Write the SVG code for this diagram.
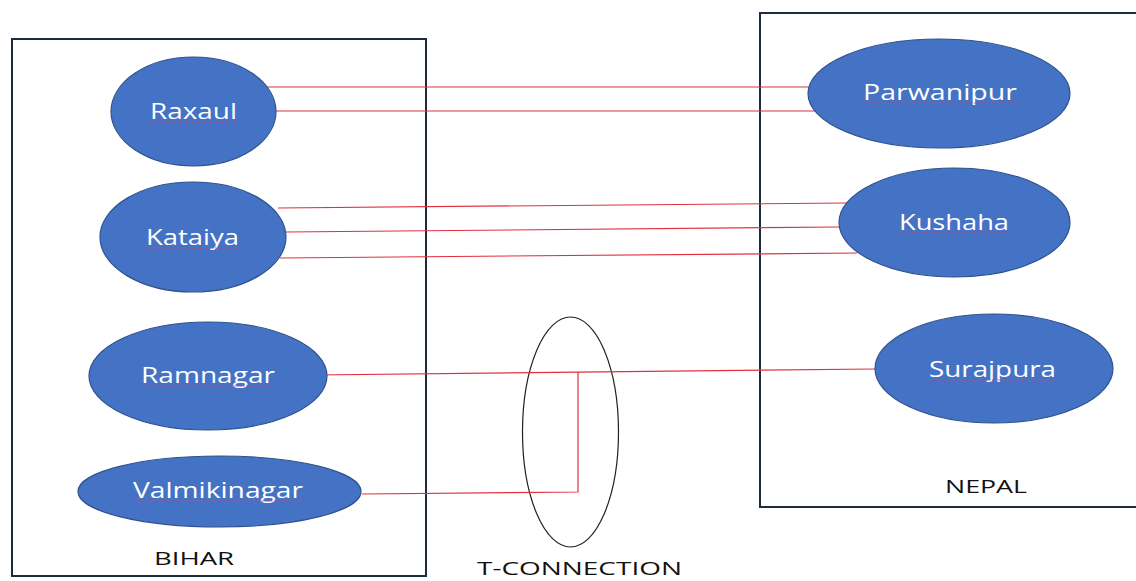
<svg xmlns="http://www.w3.org/2000/svg" width="1136" height="581" viewBox="0 0 1136 581">
<style>
.box{fill:none;stroke:#1e2b3c;stroke-width:2}
.node{fill:#4472c4;stroke:#2f528f;stroke-width:1.2}
.lbl{fill:#ffffff;font-family:"Open Sans","Liberation Sans",sans-serif;font-size:21px;font-weight:500}
.cap{fill:#111111;font-family:"Open Sans","Liberation Sans",sans-serif;font-size:18px}
.wire{fill:none;stroke:#e03040;stroke-width:1.2}
.sq{fill:none;stroke:#d0407a;stroke-width:1.2;stroke-dasharray:1.5 1.5}
</style>
<rect width="1136" height="581" fill="#ffffff"/>
<g id="bihar">
<rect class="box" x="12" y="39" width="414" height="537"/>
<text class="cap" x="154" y="565" textLength="80" lengthAdjust="spacingAndGlyphs">BIHAR</text>
</g>
<g id="nepal">
<rect class="box" x="760" y="13" width="420" height="494"/>
<text class="cap" x="945" y="493" textLength="82" lengthAdjust="spacingAndGlyphs">NEPAL</text>
</g>
<g id="t-connection">
<ellipse cx="570.5" cy="432" rx="48" ry="115" fill="none" stroke="#222222" stroke-width="1.2"/>
<text class="cap" x="477" y="575" textLength="205" lengthAdjust="spacingAndGlyphs">T-CONNECTION</text>
</g>
<g id="connectors">
<line class="wire" x1="262" y1="87" x2="809" y2="87"/>
<line class="wire" x1="268" y1="111" x2="815" y2="111"/>
<line class="wire" x1="278" y1="208" x2="847" y2="203"/>
<line class="wire" x1="286" y1="232" x2="840" y2="227"/>
<line class="wire" x1="280" y1="258" x2="857" y2="253"/>
<line class="wire" x1="315" y1="375" x2="875" y2="369"/>
<polyline class="wire" points="578,372 578,492 362,494"/>
</g>
<g id="raxaul">
<ellipse class="node" cx="193.5" cy="111.5" rx="82.5" ry="54.5"/>
<text class="lbl" x="150" y="119" textLength="87" lengthAdjust="spacingAndGlyphs">Raxaul</text>
<line class="sq" x1="150" y1="122" x2="238" y2="122"/>
</g>
<g id="kataiya">
<ellipse class="node" cx="193" cy="237" rx="93" ry="55"/>
<text class="lbl" x="146" y="245" textLength="93" lengthAdjust="spacingAndGlyphs">Kataiya</text>
<line class="sq" x1="146" y1="248" x2="240" y2="248"/>
</g>
<g id="ramnagar">
<ellipse class="node" cx="208" cy="376" rx="119" ry="54"/>
<text class="lbl" x="141" y="383" textLength="134" lengthAdjust="spacingAndGlyphs">Ramnagar</text>
<line class="sq" x1="141" y1="386" x2="276" y2="386"/>
</g>
<g id="valmikinagar">
<ellipse class="node" cx="219.5" cy="491.5" rx="141.5" ry="35.5"/>
<text class="lbl" x="133" y="498" textLength="170" lengthAdjust="spacingAndGlyphs">Valmikinagar</text>
<line class="sq" x1="133" y1="501" x2="304" y2="501"/>
</g>
<g id="parwanipur">
<ellipse class="node" cx="939" cy="93.5" rx="131" ry="54.5"/>
<text class="lbl" x="863" y="100" textLength="154" lengthAdjust="spacingAndGlyphs">Parwanipur</text>
<line class="sq" x1="863" y1="103" x2="1018" y2="103"/>
</g>
<g id="kushaha">
<ellipse class="node" cx="954.5" cy="222.5" rx="115.5" ry="54.5"/>
<text class="lbl" x="899" y="230" textLength="110" lengthAdjust="spacingAndGlyphs">Kushaha</text>
<line class="sq" x1="899" y1="233" x2="1010" y2="233"/>
</g>
<g id="surajpura">
<ellipse class="node" cx="994" cy="368.5" rx="119" ry="54.5"/>
<text class="lbl" x="929" y="377" textLength="127" lengthAdjust="spacingAndGlyphs">Surajpura</text>
<line class="sq" x1="929" y1="380" x2="1057" y2="380"/>
</g>
</svg>
